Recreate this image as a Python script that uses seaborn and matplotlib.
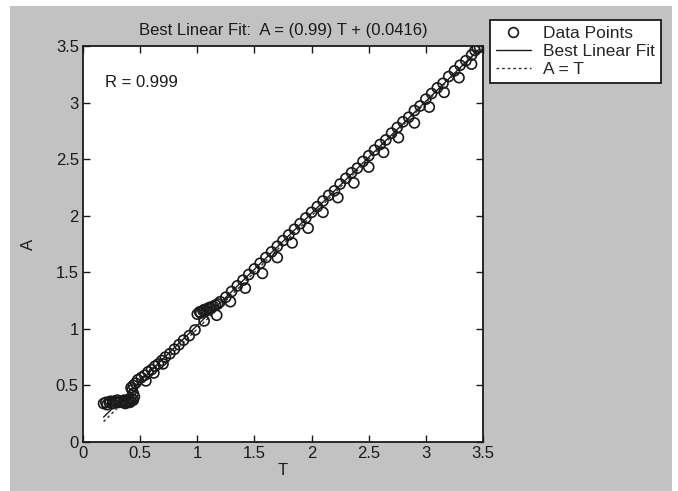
import numpy as np
import pandas as pd
import matplotlib
matplotlib.use("Agg")
import matplotlib.pyplot as plt
from matplotlib.patches import Rectangle
from matplotlib.lines import Line2D
import seaborn as sns

# Targets (T) and network outputs (A)
targets = [
    0.18, 0.20, 0.21, 0.23, 0.24, 0.26, 0.27, 0.29, 0.30, 0.32, 0.33, 0.35, 0.36,
    0.37, 0.38, 0.39, 0.40, 0.41, 0.42, 0.43, 0.44, 0.45, 0.44, 0.43, 0.42, 0.44, 0.46,
    0.48, 0.51, 0.54, 0.57, 0.60, 0.63, 0.66, 0.69, 0.72, 0.76, 0.80, 0.84, 0.88, 0.93, 0.98,
    0.55, 0.62, 0.70,
    1.00, 1.02, 1.03, 1.05, 1.06, 1.08, 1.09, 1.11, 1.12, 1.14, 1.16, 1.18, 1.20, 1.06, 1.17,
    1.25, 1.30, 1.35, 1.40, 1.45, 1.50, 1.55, 1.60, 1.65, 1.70, 1.75, 1.80, 1.85, 1.90,
    1.95, 2.00, 2.05, 2.10, 2.15, 2.20, 2.25, 2.30, 2.35, 2.40, 2.45, 2.50, 2.55, 2.60,
    2.65, 2.70, 2.75, 2.80, 2.85, 2.90, 2.95, 3.00, 3.05, 3.10, 3.15, 3.20, 3.25, 3.30,
    3.35, 3.40, 3.43, 3.45, 3.47,
    1.29, 1.42, 1.57, 1.70, 1.83, 1.97, 2.10, 2.23, 2.37, 2.50, 2.63, 2.76, 2.90, 3.03,
    3.16, 3.29, 3.40,
]
outputs = [
    0.34, 0.35, 0.33, 0.35, 0.36, 0.34, 0.36, 0.35, 0.37, 0.35, 0.36, 0.35, 0.37,
    0.34, 0.36, 0.35, 0.37, 0.35, 0.36, 0.38, 0.37, 0.40, 0.43, 0.46, 0.48, 0.50, 0.52,
    0.55, 0.57, 0.59, 0.62, 0.64, 0.67, 0.69, 0.72, 0.75, 0.78, 0.82, 0.86, 0.90, 0.94, 0.99,
    0.54, 0.61, 0.69,
    1.13, 1.15, 1.14, 1.16, 1.17, 1.16, 1.18, 1.19, 1.18, 1.20, 1.21, 1.22, 1.24, 1.07, 1.12,
    1.28, 1.33, 1.38, 1.43, 1.48, 1.53, 1.58, 1.63, 1.68, 1.73, 1.78, 1.83, 1.88, 1.93,
    1.98, 2.03, 2.08, 2.13, 2.18, 2.22, 2.28, 2.33, 2.38, 2.42, 2.48, 2.53, 2.58, 2.63,
    2.67, 2.73, 2.78, 2.83, 2.87, 2.93, 2.97, 3.03, 3.08, 3.13, 3.17, 3.23, 3.28, 3.33,
    3.37, 3.42, 3.46, 3.48, 3.49,
    1.24, 1.36, 1.49, 1.63, 1.76, 1.89, 2.03, 2.16, 2.29, 2.43, 2.56, 2.69, 2.82, 2.96,
    3.09, 3.22, 3.34,
]

fit_slope = 0.99
fit_intercept = 0.0416
r_value = 0.999

x_ticks = [0, 0.5, 1, 1.5, 2, 2.5, 3, 3.5]
y_ticks = [0, 0.5, 1, 1.5, 2, 2.5, 3, 3.5]

points = pd.DataFrame({"T": targets, "A": outputs})
t_span = np.array([min(targets), max(targets)])
fit = pd.DataFrame({"T": t_span, "A": fit_slope * t_span + fit_intercept})
ident = pd.DataFrame({"T": t_span, "A": t_span})

sns.set_theme(style="white")
plt.rcParams["font.family"] = ["Liberation Sans", "DejaVu Sans"]

ink = "#1a1a1a"
W, H, DPI = 678, 491, 100
fig = plt.figure(figsize=(W / DPI, H / DPI), dpi=DPI, facecolor="white")
gray = "#c2c2c2"
fig.patches.append(Rectangle((10 / W, 0), (672 - 10) / W, (491 - 6) / H,
                             transform=fig.transFigure, facecolor=gray,
                             edgecolor="none", zorder=-5))

ax = fig.add_axes([83 / W, 1 - 442 / H, 400 / W, 396 / H])
ax.set_zorder(1)
ax.set_facecolor("white")

sns.lineplot(data=fit, x="T", y="A", ax=ax, color=ink, lw=1.0, zorder=2)
sns.lineplot(data=ident, x="T", y="A", ax=ax, color="#333333", lw=1.0,
             linestyle=(0, (2, 2)), zorder=2)
sns.scatterplot(data=points, x="T", y="A", ax=ax, marker="o", s=52,
                facecolors="none", edgecolor=ink, linewidth=1.2, zorder=3)

ax.set_xlim(0, 3.5)
ax.set_ylim(0, 3.5)
ax.set_xticks(x_ticks)
ax.set_yticks(y_ticks)
ax.set_xticklabels([f"{v:g}" for v in x_ticks])
ax.set_yticklabels([f"{v:g}" for v in y_ticks])
ax.tick_params(direction="in", length=5, width=1, colors=ink,
               top=True, right=True, bottom=True, left=True,
               labelsize=12, pad=3)
for lbl in ax.get_xticklabels() + ax.get_yticklabels():
    lbl.set_color(ink)
for sp in ax.spines.values():
    sp.set_color(ink)
    sp.set_linewidth(1.3)

ax.set_xlabel("T", fontsize=12, color=ink, labelpad=1)
ax.set_ylabel("A", fontsize=12, color=ink, labelpad=14)
ax.set_title("Best Linear Fit:  A = (%g) T + (%g)" % (fit_slope, fit_intercept),
             fontsize=12, color=ink, pad=8)
ax.text(0.19, 3.18, f"R = {r_value:g}", fontsize=12, color=ink,
        ha="left", va="center")

handles = [
    Line2D([], [], marker="o", linestyle="none", markerfacecolor="none",
           markeredgecolor=ink, markersize=7, markeredgewidth=1.2),
    Line2D([], [], color=ink, lw=1.0),
    Line2D([], [], color="#333333", lw=1.0, linestyle=(0, (2, 2))),
]
leg = fig.legend(handles, ["Data Points", "Best Linear Fit", "A = T"],
                 loc="upper left", bbox_to_anchor=(490 / W, 1 - 20 / H),
                 fontsize=12.5, frameon=True, fancybox=False, borderpad=0.35,
                 handlelength=2.0, handletextpad=0.7, labelspacing=0.15,
                 borderaxespad=0)
leg.get_frame().set_edgecolor(ink)
leg.get_frame().set_linewidth(1.3)
leg.get_frame().set_facecolor("white")
leg.get_frame().set_alpha(1)

fig.savefig("out.png", dpi=DPI, facecolor="white")
